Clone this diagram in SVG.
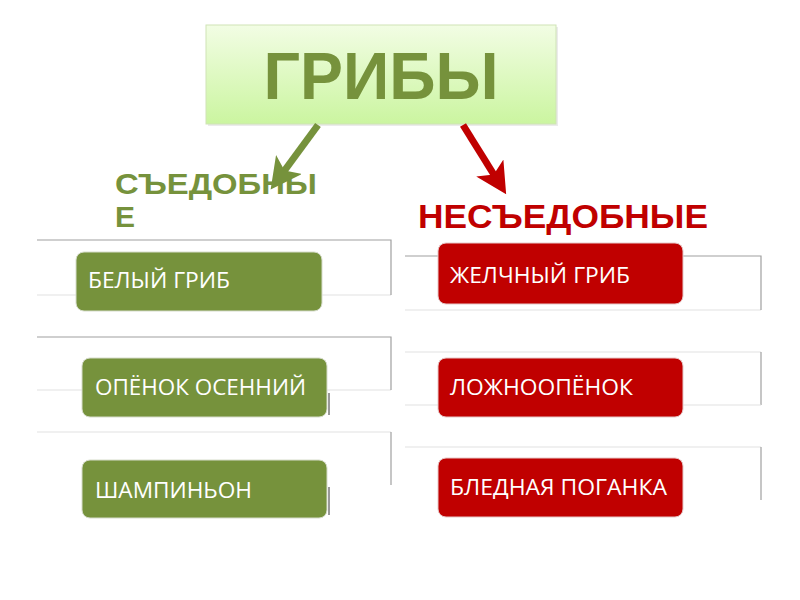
<svg xmlns="http://www.w3.org/2000/svg" width="800" height="600" viewBox="0 0 800 600">
<defs>
<linearGradient id="topGrad" x1="0" y1="0" x2="0" y2="1">
<stop offset="0" stop-color="#f2fde4"/>
<stop offset="1" stop-color="#cbf5a0"/>
</linearGradient>
<marker id="ahGreen" markerUnits="userSpaceOnUse" markerWidth="32" markerHeight="32" viewBox="0 0 30 30" refX="11" refY="15" orient="auto">
<path d="M0,0 L29,15 L0,30 L7,15 Z" fill="#76923c"/>
</marker>
<marker id="ahRed" markerUnits="userSpaceOnUse" markerWidth="32" markerHeight="32" viewBox="0 0 30 30" refX="11" refY="15" orient="auto">
<path d="M0,0 L29,15 L0,30 L7,15 Z" fill="#c00000"/>
</marker>
</defs>
<style>
.frameDark{fill:none;stroke:#a0a0a0;stroke-width:1.2}
.frameLight{fill:none;stroke:#e2e2e2;stroke-width:1.2}
.gbox{fill:#76923c;stroke:#d6dccb;stroke-width:1}
.rbox{fill:#c00000;stroke:#e6c8c8;stroke-width:1}
.btxt{font-family:"Open Sans","Liberation Sans",sans-serif;font-size:21px;fill:#ffffff}
.hdr{font-family:"Liberation Sans",Arial,sans-serif;font-weight:bold}
</style>
<rect width="800" height="600" fill="#ffffff"/>

<g id="root">
<rect x="208" y="27" width="350" height="99" fill="#000" opacity="0.08"/>
<rect x="206" y="25" width="350" height="99" fill="url(#topGrad)" stroke="#cfe3b6" stroke-width="1"/>
<text x="381" y="99" text-anchor="middle" class="hdr" font-size="66" fill="#76923c" textLength="235" lengthAdjust="spacingAndGlyphs">ГРИБЫ</text>
</g>

<g id="label-edible">
<text x="115" y="194" class="hdr" font-size="30" fill="#76923c" textLength="202" lengthAdjust="spacingAndGlyphs">СЪЕДОБНЫ</text>
<text x="115" y="227" class="hdr" font-size="30" fill="#76923c">Е</text>
</g>

<g id="label-inedible">
<text x="418" y="228" class="hdr" font-size="34" fill="#c00000" textLength="290" lengthAdjust="spacingAndGlyphs">НЕСЪЕДОБНЫЕ</text>
</g>

<g id="frames">
<path class="frameLight" d="M37,295 H391"/>
<path class="frameDark" d="M37,240 H391 V295"/>
<path class="frameLight" d="M37,390 H391"/>
<path class="frameDark" d="M37,337 H391 V390"/>
<path class="frameLight" d="M37,432 H391"/>
<path class="frameDark" d="M391,432 V485"/>
<path class="frameLight" d="M405,310 H761"/>
<path class="frameDark" d="M405,256 H761 V310"/>
<path class="frameLight" d="M405,352 H761"/>
<path class="frameDark" d="M761,352 V405"/>
<path class="frameLight" d="M405,405 H761"/>
<path class="frameLight" d="M405,447 H761"/>
<path class="frameDark" d="M761,447 V500"/>
</g>

<g id="node-beliy">
<rect class="gbox" x="76" y="252" width="246" height="59" rx="8"/>
<text class="btxt" x="88" y="288" textLength="142" lengthAdjust="spacingAndGlyphs">БЕЛЫЙ ГРИБ</text>
</g>
<g id="node-openok">
<rect class="gbox" x="82" y="358" width="245" height="59" rx="8"/>
<path d="M329,393 V415" stroke="#555" stroke-width="1.2"/>
<text class="btxt" x="95" y="395" textLength="211" lengthAdjust="spacingAndGlyphs">ОПЁНОК ОСЕННИЙ</text>
</g>
<g id="node-shampinion">
<rect class="gbox" x="82" y="460" width="245" height="58" rx="8"/>
<path d="M329,487 V515" stroke="#555" stroke-width="1.2"/>
<text class="btxt" x="95" y="498" textLength="157" lengthAdjust="spacingAndGlyphs">ШАМПИНЬОН</text>
</g>

<g id="node-zhelchny">
<rect class="rbox" x="438" y="243" width="245" height="61" rx="8"/>
<text class="btxt" x="450" y="283" textLength="180" lengthAdjust="spacingAndGlyphs">ЖЕЛЧНЫЙ ГРИБ</text>
</g>
<g id="node-lozhnoopenok">
<rect class="rbox" x="438" y="358" width="245" height="59" rx="8"/>
<text class="btxt" x="450" y="395" textLength="183" lengthAdjust="spacingAndGlyphs">ЛОЖНООПЁНОК</text>
</g>
<g id="node-blednaya">
<rect class="rbox" x="438" y="458" width="245" height="59" rx="8"/>
<text class="btxt" x="450" y="495" textLength="217" lengthAdjust="spacingAndGlyphs">БЛЕДНАЯ ПОГАНКА</text>
</g>

<g id="connectors">
<line x1="318" y1="125" x2="282" y2="174" stroke="#76923c" stroke-width="7" marker-end="url(#ahGreen)"/>
<line x1="463" y1="125" x2="496" y2="178" stroke="#c00000" stroke-width="7" marker-end="url(#ahRed)"/>
</g>
</svg>
